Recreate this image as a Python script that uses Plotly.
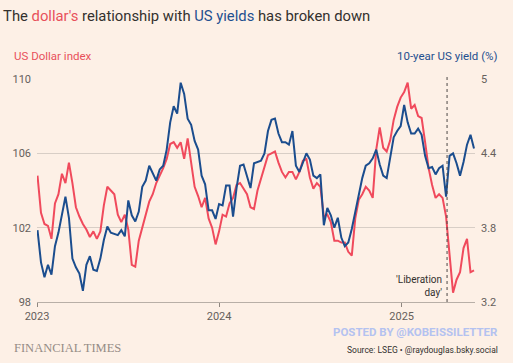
import pandas as pd
import plotly.graph_objects as go

# ---- data (weekly) ----
start_date = "2023-01-02"
dollar_index = [
    104.8, 102.8, 102.2, 102.1, 101.4, 103.3, 103.8, 104.9, 104.4, 105.5,
    104.4, 103.1, 102.6, 102.2, 101.9, 101.5, 101.8, 101.4, 101.8, 103.2,
    104.2, 104.0, 103.8, 102.7, 102.3, 102.7, 101.9, 100.0, 99.9, 101.3,
    102.0, 102.6, 103.4, 103.8, 104.4, 104.8, 105.2, 105.7, 106.5, 106.6,
    106.3, 106.6, 105.7, 106.8, 105.6, 104.2, 103.7, 103.1, 103.6, 102.5,
    102.0, 101.1, 101.8, 102.7, 102.6, 103.3, 103.6, 104.3, 104.4, 104.1,
    103.8, 103.1, 103.0, 104.0, 104.6, 105.3, 105.9, 106.0, 106.1, 105.5,
    105.0, 104.7, 105.0, 105.0, 104.6, 105.0, 105.6, 105.7, 104.7, 104.1,
    104.4, 104.2, 102.6, 102.7, 102.3, 101.3, 101.3, 101.2, 101.2, 100.7,
    100.5, 102.5, 103.5, 103.8, 104.2, 104.0, 103.6, 106.2, 107.4, 106.3,
    106.1, 106.7, 107.8, 108.5, 109.0, 109.3, 109.8, 108.4, 108.6, 108.0,
    107.9, 106.6, 105.2, 104.3, 103.6, 103.8, 103.6, 102.6, 100.5, 98.5,
    99.2, 99.6, 100.9, 101.4, 99.6, 99.7,
]
us_10y_yield = [
    3.78, 3.52, 3.40, 3.50, 3.42, 3.65, 3.76, 3.92, 4.05, 3.88,
    3.55, 3.48, 3.43, 3.29, 3.50, 3.57, 3.46, 3.45, 3.55, 3.70,
    3.81, 3.76, 3.75, 3.74, 3.78, 3.73, 4.02, 3.90, 3.85, 3.93,
    4.13, 4.18, 4.30, 4.24, 4.18, 4.27, 4.30, 4.43, 4.65, 4.78,
    4.72, 4.97, 4.88, 4.68, 4.63, 4.50, 4.43, 4.22, 4.15, 3.94,
    3.94, 3.87, 3.99, 3.98, 4.14, 4.14, 3.89, 4.12, 4.30, 4.31,
    4.22, 4.12, 4.32, 4.33, 4.34, 4.40, 4.58, 4.67, 4.68, 4.56,
    4.49, 4.49, 4.47, 4.58, 4.30, 4.25, 4.33, 4.40, 4.35, 4.22,
    4.20, 4.23, 3.82, 3.96, 3.90, 3.80, 3.88, 3.72, 3.65, 3.68,
    3.79, 3.93, 4.07, 4.20, 4.30, 4.32, 4.36, 4.43, 4.31, 4.22,
    4.20, 4.36, 4.53, 4.58, 4.62, 4.79, 4.65, 4.56, 4.56, 4.60,
    4.55, 4.38, 4.28, 4.29, 4.23, 4.28, 4.30, 4.05, 4.38, 4.40,
    4.32, 4.22, 4.33, 4.47, 4.55, 4.44,
]
dates = pd.date_range(start_date, periods=len(dollar_index), freq="7D")

left_ticks = [98, 102, 106, 110]
right_ticks = [3.2, 3.8, 4.4, 5]
right_tick_text = ["3.2", "3.8", "4.4", "5"]
year_ticks = ["2023-01-01", "2024-01-01", "2025-01-01"]
year_labels = ["2023", "2024", "2025"]
liberation_day = "2025-04-02"

RED = "#f04a5c"
BLUE = "#1b4d8e"
BG = "#fdf0e6"
TXT = "#33302e"
TICK = "#66605c"
FONT = "Roboto"

fig = go.Figure()
fig.add_trace(go.Scatter(x=dates, y=dollar_index, mode="lines",
                         line=dict(color=RED, width=2), name="US Dollar index",
                         yaxis="y"))
fig.add_trace(go.Scatter(x=dates, y=us_10y_yield, mode="lines",
                         line=dict(color=BLUE, width=2), name="10-year US yield (%)",
                         yaxis="y2"))

fig.update_layout(
    width=513, height=363,
    margin=dict(l=27, r=38, t=79, b=61),
    paper_bgcolor=BG, plot_bgcolor=BG,
    showlegend=False,
    font=dict(family=FONT, size=11, color=TICK),
    title=dict(
        text=("The <span style='color:#e8505b'>dollar's</span> relationship with "
              "<span style='color:#1f4f8f'>US yields</span> has broken down"),
        x=0.006, xref="container", xanchor="left",
        y=1 - 16 / 363, yref="container", yanchor="middle",
        font=dict(family=FONT, size=14.8, color=TXT),
    ),
    xaxis=dict(
        type="date", range=["2023-01-01", "2025-05-28"],
        tickvals=year_ticks, ticktext=year_labels,
        ticks="outside", ticklen=4, tickcolor="#8f8780", tickwidth=1,
        showgrid=False, showline=True, linecolor="#b8afa7", linewidth=1,
        zeroline=False, tickfont=dict(size=11, color=TICK),
    ),
    yaxis=dict(
        range=[98, 110], tickvals=left_ticks,
        showgrid=True, gridcolor="#d8cec6", gridwidth=1,
        zeroline=False, ticks="", tickfont=dict(size=11, color=TICK),
        ticklabelstandoff=5,
    ),
    yaxis2=dict(
        range=[3.2, 5.0], tickvals=right_ticks, ticktext=right_tick_text,
        overlaying="y", side="right", showgrid=False, zeroline=False,
        ticks="", tickfont=dict(size=11, color=TICK), ticklabelstandoff=5,
    ),
)

# Liberation day marker
fig.add_shape(type="line", xref="x", yref="paper",
              x0=liberation_day, x1=liberation_day, y0=0, y1=1.01,
              line=dict(color="#4d4845", width=1, dash="dot"))
fig.add_annotation(x=liberation_day, xref="x", y=0, yref="paper",
                   text="'Liberation<br>day'", showarrow=False,
                   xanchor="right", yanchor="bottom", align="right",
                   xshift=-3, yshift=2,
                   font=dict(family=FONT, size=10, color=TXT))

# axis titles
fig.add_annotation(x=0, xref="paper", y=1, yref="paper", xanchor="left",
                   yanchor="middle", xshift=-25, yshift=23, showarrow=False,
                   text="US Dollar index", font=dict(family=FONT, size=11.5, color="#e8505b"))
fig.add_annotation(x=1, xref="paper", y=1, yref="paper", xanchor="right",
                   yanchor="middle", xshift=25, yshift=23, showarrow=False,
                   text="10-year US yield (%)", font=dict(family=FONT, size=11.5, color="#1f4f8f"))

# footer
fig.add_annotation(x=0, xref="paper", y=0, yref="paper", xanchor="left",
                   yanchor="middle", xshift=-25, yshift=-46, showarrow=False,
                   text="FINANCIAL TIMES",
                   font=dict(family="Liberation Serif", size=12.5, color="#958c85"))
fig.add_annotation(x=1, xref="paper", y=0, yref="paper", xanchor="right",
                   yanchor="middle", xshift=25, yshift=-30, showarrow=False,
                   text="<b>POSTED BY @KOBEISSILETTER</b>",
                   font=dict(family=FONT, size=11.5, color="#b4c2f0"))
fig.add_annotation(x=1, xref="paper", y=0, yref="paper", xanchor="right",
                   yanchor="middle", xshift=25, yshift=-48, showarrow=False,
                   text="Source: LSEG \u2022 @raydouglas.bsky.social",
                   font=dict(family=FONT, size=8.5, color=TXT))

fig.write_html(
    "out.html",
    config={"displayModeBar": False},
    post_script="document.body.style.margin='0';document.body.style.background='#fdf0e6';",
)
